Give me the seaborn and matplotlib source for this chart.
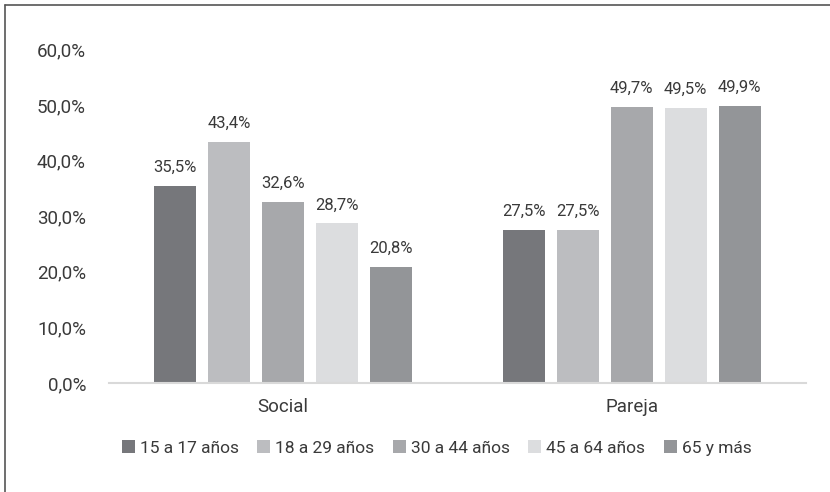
import matplotlib
matplotlib.use("Agg")
import matplotlib.pyplot as plt
from matplotlib.lines import Line2D
from matplotlib.patches import Patch
import seaborn as sns
import pandas as pd

categories = ["Social", "Pareja"]
age_groups = ["15 a 17 años", "18 a 29 años", "30 a 44 años", "45 a 64 años", "65 y más"]
social = [35.5, 43.4, 32.6, 28.7, 20.8]
pareja = [27.5, 27.5, 49.7, 49.5, 49.9]
y_ticks = [0, 10, 20, 30, 40, 50, 60]
colors = ["#76777b", "#bcbdc0", "#a7a8ab", "#dcdddf", "#939598"]

rows = []
for g, v in zip(age_groups, social):
    rows.append({"tipo": categories[0], "edad": g, "valor": v})
for g, v in zip(age_groups, pareja):
    rows.append({"tipo": categories[1], "edad": g, "valor": v})
df = pd.DataFrame(rows)

sns.set_theme(style="white")
plt.rcParams["font.family"] = ["Roboto", "DejaVu Sans"]
text_color = "#3a3a3a"

fig = plt.figure(figsize=(8.3, 4.92), dpi=100)
ax = fig.add_axes([0.1313, 0.2215, 0.8398, 0.678])

sns.barplot(data=df, x="tipo", y="valor", hue="edad", order=categories,
            hue_order=age_groups, palette=colors, width=0.775, gap=0.222,
            saturation=1, ax=ax, legend=False, edgecolor="none")

for container in ax.containers:
    ax.bar_label(container, labels=[f"{b.get_height():.1f}%".replace(".", ",") for b in container],
                 padding=8, fontsize=12, color=text_color)

ax.set_ylim(0, 60)
ax.set_yticks(y_ticks)
ax.set_yticklabels([f"{t:.1f}%".replace(".", ",") for t in y_ticks])
ax.tick_params(axis="y", labelsize=13.5, colors=text_color, length=0, pad=16.5)
ax.tick_params(axis="x", labelsize=13.5, colors=text_color, length=0, pad=11)
ax.set_xlabel("")
ax.set_ylabel("")
for side in ["top", "right", "left"]:
    ax.spines[side].set_visible(False)
ax.spines["bottom"].set_color("#d9d9d9")
ax.spines["bottom"].set_linewidth(1.5)
ax.set_xlim(-0.5, 1.5)

handles = [Patch(facecolor=c, edgecolor="none") for c in colors]
leg = fig.legend(handles, age_groups, loc="center", bbox_to_anchor=(0.526, 0.0894),
                 ncol=5, frameon=False, fontsize=12.5, handlelength=0.75,
                 handleheight=0.75, handletextpad=0.3, columnspacing=1.05)
for t in leg.get_texts():
    t.set_color(text_color)

# outer frame on the top and left edges
fig.add_artist(Line2D([0.006, 1.0], [0.9898, 0.9898], transform=fig.transFigure,
                      color="#555555", linewidth=1.2))
fig.add_artist(Line2D([0.006, 0.006], [0.0, 0.9898], transform=fig.transFigure,
                      color="#555555", linewidth=1.2))

fig.savefig("out.png", dpi=100, facecolor="white")
